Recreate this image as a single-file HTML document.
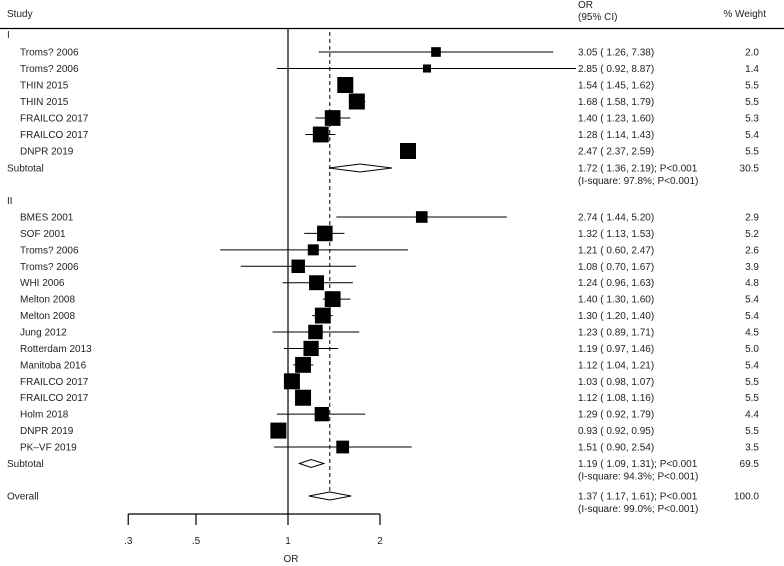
<!DOCTYPE html>
<html><head><meta charset="utf-8">
<style>
html,body{margin:0;padding:0;background:#fff;}
svg{display:block;font-family:"Liberation Sans",sans-serif;font-size:10px;}
text{fill:#222;}
</style></head>
<body>
<svg id="plot" width="784" height="566" viewBox="0 0 784 566" xmlns="http://www.w3.org/2000/svg">
  <text x="7" y="17">Study</text>
  <text x="578" y="8">OR</text>
  <text x="578" y="20">(95% CI)</text>
  <text x="766" y="17" text-anchor="end">% Weight</text>
  <line x1="0" y1="28.5" x2="784" y2="28.5" stroke="#000" stroke-width="1.3"/>
  <g id="marks"></g>
</svg>
<script>
const studies1 = ["Troms? 2006","Troms? 2006","THIN 2015","THIN 2015","FRAILCO 2017","FRAILCO 2017","DNPR 2019"];
const or1 = [3.05,2.85,1.54,1.68,1.40,1.28,2.47];
const lo1 = [1.26,0.92,1.45,1.58,1.23,1.14,2.37];
const hi1 = [7.38,8.87,1.62,1.79,1.60,1.43,2.59];
const w1 = [2.0,1.4,5.5,5.5,5.3,5.4,5.5];
const studies2 = ["BMES 2001","SOF 2001","Troms? 2006","Troms? 2006","WHI 2006","Melton 2008","Melton 2008","Jung 2012","Rotterdam 2013","Manitoba 2016","FRAILCO 2017","FRAILCO 2017","Holm 2018","DNPR 2019","PK\u2013VF 2019"];
const or2 = [2.74,1.32,1.21,1.08,1.24,1.40,1.30,1.23,1.19,1.12,1.03,1.12,1.29,0.93,1.51];
const lo2 = [1.44,1.13,0.60,0.70,0.96,1.30,1.20,0.89,0.97,1.04,0.98,1.08,0.92,0.92,0.90];
const hi2 = [5.20,1.53,2.47,1.67,1.63,1.60,1.40,1.71,1.46,1.21,1.07,1.16,1.79,0.95,2.54];
const w2 = [2.9,5.2,2.6,3.9,4.8,5.4,5.4,4.5,5.0,5.4,5.5,5.5,4.4,5.5,3.5];
const sub1 = [1.72,1.36,2.19]; const subW1 = 30.5; const subI1 = "97.8%";
const sub2 = [1.19,1.09,1.31]; const subW2 = 69.5; const subI2 = "94.3%";
const overall = [1.37,1.17,1.61]; const overallW = 100.0; const overallI = "99.0%";
const ticks = [0.3,0.5,1,2];
const tickLabels = [".3",".5","1","2"];

const NS="http://www.w3.org/2000/svg";
const g=document.getElementById('marks');
const x=v=>288+132.7*Math.log(v);
const clip=v=>Math.max(130,Math.min(576,v));
function mk(tag,attrs,parent){const e=document.createElementNS(NS,tag);for(const k in attrs)e.setAttribute(k,attrs[k]);(parent||g).appendChild(e);return e;}
function txt(s,px,py,anchor){const t=mk('text',{x:px,y:py});if(anchor)t.setAttribute('text-anchor',anchor);t.textContent=s;return t;}
const f2=v=>v.toFixed(2);
const ciTxt=(o,l,h)=>f2(o)+" ( "+f2(l)+", "+f2(h)+")";

// vertical null line & dashed overall line
let e=mk('line',{x1:x(1),y1:28.5,x2:x(1),y2:514,stroke:'#000','stroke-width':1.2});


e=mk('line',{x1:x(overall[0]),y1:32,x2:x(overall[0]),y2:492,stroke:'#000','stroke-width':1,'stroke-dasharray':'4,3'});



function row(name,o,l,h,w,y){
  const grp=mk('g',{});
  
  
  let t=txt(name,20,y+3.5);grp.appendChild(t);
  
  
  let ln=mk('line',{x1:clip(x(l)),y1:y,x2:clip(x(h)),y2:y,stroke:'#000','stroke-width':1},grp);
  
  
  const s=16*Math.sqrt(w/5.5);
  let r=mk('rect',{x:x(o)-s/2,y:y-s/2,width:s,height:s,fill:'#000'},grp);
  
  
  t=txt(ciTxt(o,l,h),578,y+3.5);grp.appendChild(t);
  
  
  t=txt(w.toFixed(1),759,y+3.5,'end');grp.appendChild(t);
  
  
}
function diamond(label,v,wt,isq,y,name){
  const grp=mk('g',{});
  
  
  let t=txt(label,7,y+3.5);grp.appendChild(t);
  let p=mk('polygon',{points:`${x(v[1])},${y} ${x(v[0])},${y-4} ${x(v[2])},${y} ${x(v[0])},${y+4}`,fill:'#fff',stroke:'#000','stroke-width':1},grp);
  
  
  t=txt(ciTxt(v[0],v[1],v[2])+"; P<0.001",578,y+3.5);grp.appendChild(t);
  t=txt("(I-square: "+isq+"; P<0.001)",578,y+16);grp.appendChild(t);
  t=txt(wt.toFixed(1),759,y+3.5,'end');grp.appendChild(t);
}
let t=txt("I",7,38);


studies1.forEach((s,i)=>row(s,or1[i],lo1[i],hi1[i],w1[i],52+16.5*i));
diamond("Subtotal",sub1,subW1,subI1,168,'subtotal-i');
t=txt("II",7,204);


studies2.forEach((s,i)=>row(s,or2[i],lo2[i],hi2[i],w2[i],217+16.43*i));
diamond("Subtotal",sub2,subW2,subI2,463.5,'subtotal-ii');
diamond("Overall",overall,overallW,overallI,496,'overall');

// axis
const ax=mk('g',{});


mk('line',{x1:x(ticks[0]),y1:514,x2:x(ticks[ticks.length-1]),y2:514,stroke:'#000','stroke-width':1.2},ax);
ticks.forEach((v,i)=>{
  mk('line',{x1:x(v),y1:514,x2:x(v),y2:525,stroke:'#000','stroke-width':1.2},ax);
  const tl=txt(tickLabels[i],x(v),544,'middle');ax.appendChild(tl);
  
  
});
t=txt("OR",291,562,'middle');


</script>
</body></html>
